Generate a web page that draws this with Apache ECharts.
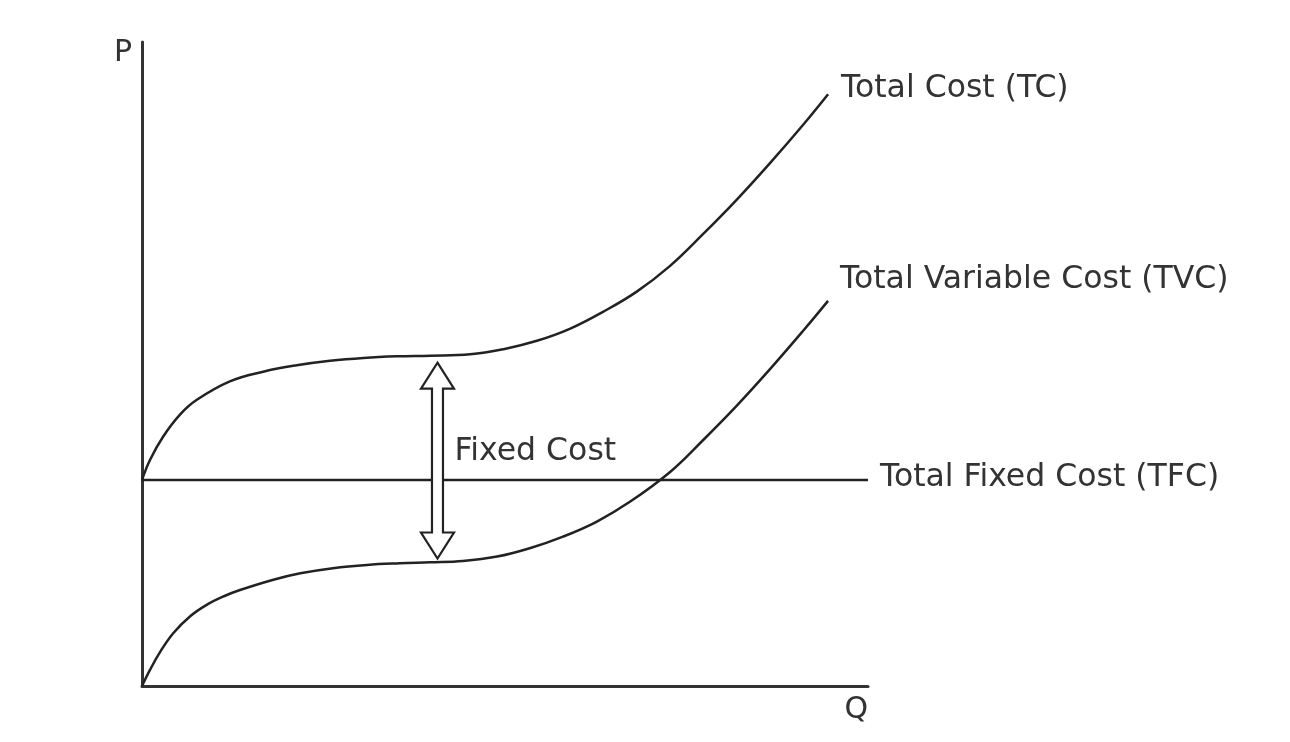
<!DOCTYPE html>
<html>
<head>
<meta charset="utf-8">
<script src="https://cdn.jsdelivr.net/npm/echarts@6/dist/echarts.min.js"></script>
<style>
  html, body { margin: 0; padding: 0; background: #ffffff; }
  #chart { width: 1290px; height: 742px; }
</style>
</head>
<body>
<div id="chart"></div>
<script>
// ---- data (Q on 0..100, cost on 0..100) ----
const tcName = 'Total Cost (TC)';
const tvcName = 'Total Variable Cost (TVC)';
const tfcName = 'Total Fixed Cost (TFC)';
const axisNames = ['Q', 'P'];
const arrowText = 'Fixed Cost';

const tcQ    = [0, 1.1, 2.9, 5.2, 7.5, 12.1, 16.7, 21.3, 25.9, 30.5, 35.1, 39.7, 45.2, 49.8, 54.4, 59.0, 63.5, 68.1, 72.7, 77.3, 81.9, 86.5, 91.1, 94.5];
const tcCost = [32, 35.1, 38.7, 42.1, 44.4, 47.3, 48.8, 49.8, 50.5, 50.95, 51.2, 51.3, 51.5, 52.3, 53.6, 55.5, 58.1, 61.2, 65.2, 70.2, 75.5, 81.2, 87.2, 91.9];

const tvcQ    = [0, 1.1, 2.5, 4.3, 6.6, 8.9, 11.2, 13.5, 18.1, 21.8, 26.3, 31.0, 35.5, 39.7, 44.2, 48.9, 53.4, 58.0, 62.6, 67.2, 72.7, 77.3, 81.9, 86.5, 91.1, 94.5];
const tvcCost = [0, 2.5, 5.3, 8.2, 10.8, 12.6, 13.9, 14.9, 16.5, 17.5, 18.3, 18.8, 19.05, 19.2, 19.4, 20.1, 21.4, 23.2, 25.5, 28.6, 33.2, 38.2, 43.5, 49.2, 55.2, 59.8];

const tfcQ    = [0, 100];
const tfcCost = [32, 32];

// fixed-cost arrow: [Q, lower cost, upper cost]
const arrowSpan = [40.7, 19.8, 50.2];

// ---- chart ----
const FONT = 'DejaVu Sans';
const FS = 31.5;
const LINE = '#222222';
const TEXT = '#333333';

function pairs(xs, ys) { return xs.map((x, i) => [x, ys[i]]); }

const chart = echarts.init(document.getElementById('chart'), null, { renderer: 'canvas' });

const endLabel = (dist, off) => ({
  show: true,
  formatter: '{a}',
  color: TEXT,
  fontFamily: FONT,
  fontSize: FS,
  distance: dist,
  offset: off
});

const option = {
  animation: false,
  backgroundColor: '#ffffff',
  grid: { left: 142, right: 422, top: 42, bottom: 56, containLabel: false },
  xAxis: {
    type: 'value', min: 0, max: 100,
    name: axisNames[0], nameLocation: 'end', nameGap: 0,
    nameTextStyle: { color: TEXT, fontFamily: FONT, fontSize: 30, align: 'right', verticalAlign: 'top', padding: [9, 0, 0, 0] },
    axisLine: { show: true, onZero: false, lineStyle: { color: '#333333', width: 3 } },
    axisTick: { show: false }, axisLabel: { show: false }, splitLine: { show: false }
  },
  yAxis: {
    type: 'value', min: 0, max: 100,
    name: axisNames[1], nameLocation: 'end', nameGap: 4,
    nameTextStyle: { color: TEXT, fontFamily: FONT, fontSize: 30, align: 'right', verticalAlign: 'top', padding: [0, 10, 0, 0] },
    axisLine: { show: true, onZero: false, lineStyle: { color: '#333333', width: 3 } },
    axisTick: { show: false }, axisLabel: { show: false }, splitLine: { show: false }
  },
  series: [
    {
      name: tfcName, type: 'line', data: pairs(tfcQ, tfcCost),
      showSymbol: false, symbol: 'none',
      lineStyle: { color: LINE, width: 2.5 },
      endLabel: endLabel(12, [0, -2])
    },
    {
      name: tvcName, type: 'line', data: pairs(tvcQ, tvcCost),
      smooth: 0.4, showSymbol: false, symbol: 'none',
      lineStyle: { color: LINE, width: 2.5 },
      endLabel: endLabel(12, [0, -21])
    },
    {
      name: tcName, type: 'line', data: pairs(tcQ, tcCost),
      smooth: 0.4, showSymbol: false, symbol: 'none',
      lineStyle: { color: LINE, width: 2.5 },
      endLabel: endLabel(13, [0, -5])
    },
    {
      name: 'arrow', type: 'custom',
      data: [arrowSpan],
      renderItem: function (params, api) {
        const q = api.value(0);
        const bot = api.coord([q, api.value(1)]);
        const top = api.coord([q, api.value(2)]);
        const cx = top[0];
        const headLen = 26, headHalf = 16.5, shaftHalf = 5.5;
        const pts = [
          [cx, top[1]],
          [cx + headHalf, top[1] + headLen],
          [cx + shaftHalf, top[1] + headLen],
          [cx + shaftHalf, bot[1] - headLen],
          [cx + headHalf, bot[1] - headLen],
          [cx, bot[1]],
          [cx - headHalf, bot[1] - headLen],
          [cx - shaftHalf, bot[1] - headLen],
          [cx - shaftHalf, top[1] + headLen],
          [cx - headHalf, top[1] + headLen]
        ];
        const midY = (top[1] + bot[1]) / 2;
        return {
          type: 'group',
          children: [
            {
              type: 'polygon',
              shape: { points: pts },
              style: { fill: '#ffffff', stroke: LINE, lineWidth: 2.2, lineJoin: 'miter' }
            },
            {
              type: 'text',
              x: cx + 17, y: midY - 9,
              style: { text: arrowText, fill: TEXT, font: FS + 'px "' + FONT + '"', textAlign: 'left', textVerticalAlign: 'middle' }
            }
          ]
        };
      },
      z: 5
    }
  ]
};

chart.setOption(option);
</script>
</body>
</html>
